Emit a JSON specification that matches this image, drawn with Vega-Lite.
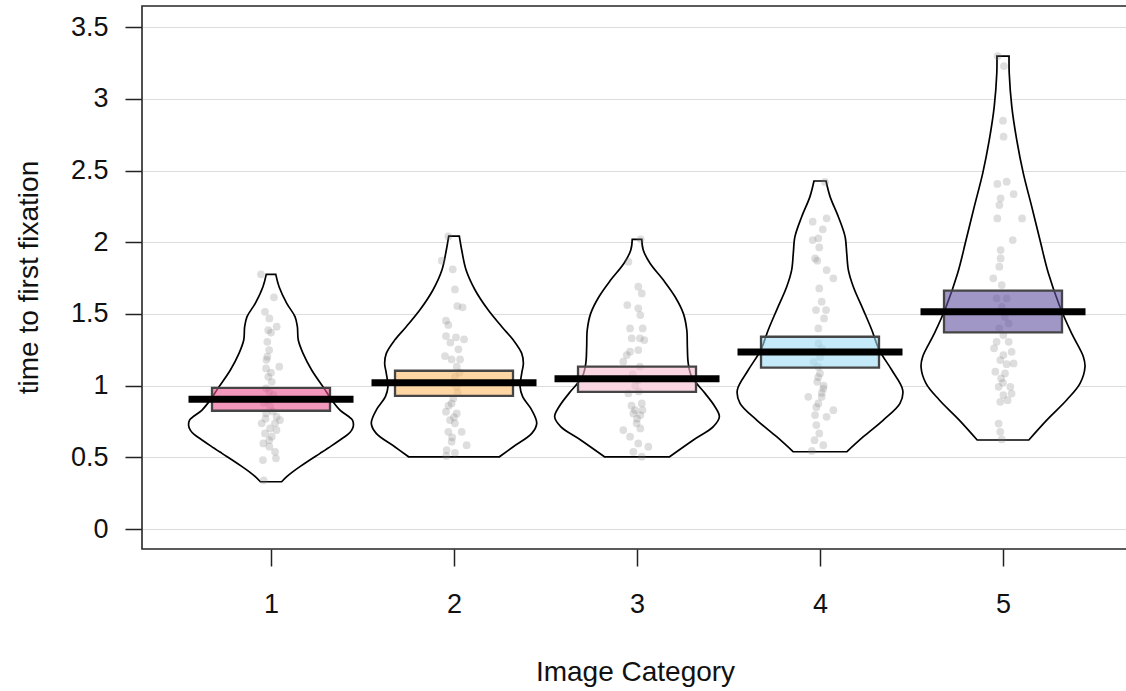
{
"$schema": "https://vega.github.io/schema/vega-lite/v6.json",
"autosize": {"type": "none"},
"padding": {"left": 142, "top": 6, "right": 0, "bottom": 142},
"width": 986,
"height": 543,
"background": "white",
"config": {
  "view": {"stroke": "#262626", "strokeWidth": 1.6},
  "font": "Liberation Sans",
  "axis": {"labelFont": "Liberation Sans", "titleFont": "Liberation Sans"}
},
"datasets": {
"violin": [
{"g":1,"t":1.776,"left":0.974,"right":1.026},{"g":1,"t":1.690,"left":0.956,"right":1.044},{"g":1,"t":1.574,"left":0.914,"right":1.086},{"g":1,"t":1.481,"left":0.869,"right":1.131},{"g":1,"t":1.411,"left":0.856,"right":1.144},{"g":1,"t":1.318,"left":0.851,"right":1.149},{"g":1,"t":1.225,"left":0.825,"right":1.175},{"g":1,"t":1.109,"left":0.778,"right":1.222},{"g":1,"t":0.981,"left":0.710,"right":1.290},{"g":1,"t":0.900,"left":0.668,"right":1.332},{"g":1,"t":0.830,"left":0.623,"right":1.377},{"g":1,"t":0.760,"left":0.555,"right":1.445},{"g":1,"t":0.720,"left":0.550,"right":1.450},{"g":1,"t":0.690,"left":0.559,"right":1.441},{"g":1,"t":0.660,"left":0.580,"right":1.420},{"g":1,"t":0.621,"left":0.623,"right":1.377},{"g":1,"t":0.580,"left":0.670,"right":1.330},{"g":1,"t":0.528,"left":0.732,"right":1.268},{"g":1,"t":0.480,"left":0.790,"right":1.210},{"g":1,"t":0.435,"left":0.842,"right":1.158},{"g":1,"t":0.400,"left":0.880,"right":1.120},{"g":1,"t":0.365,"left":0.914,"right":1.086},{"g":1,"t":0.330,"left":0.942,"right":1.058},
{"g":2,"t":2.043,"left":1.971,"right":2.029},{"g":2,"t":1.946,"left":1.958,"right":2.042},{"g":2,"t":1.806,"left":1.934,"right":2.066},{"g":2,"t":1.667,"left":1.885,"right":2.115},{"g":2,"t":1.527,"left":1.813,"right":2.187},{"g":2,"t":1.411,"left":1.739,"right":2.261},{"g":2,"t":1.318,"left":1.676,"right":2.324},{"g":2,"t":1.225,"left":1.630,"right":2.370},{"g":2,"t":1.155,"left":1.621,"right":2.379},{"g":2,"t":1.086,"left":1.630,"right":2.370},{"g":2,"t":0.993,"left":1.639,"right":2.361},{"g":2,"t":0.923,"left":1.625,"right":2.375},{"g":2,"t":0.830,"left":1.575,"right":2.425},{"g":2,"t":0.737,"left":1.548,"right":2.452},{"g":2,"t":0.667,"left":1.575,"right":2.425},{"g":2,"t":0.574,"left":1.676,"right":2.324},{"g":2,"t":0.504,"left":1.752,"right":2.248},
{"g":3,"t":2.020,"left":2.974,"right":3.026},{"g":3,"t":1.946,"left":2.966,"right":3.034},{"g":3,"t":1.853,"left":2.929,"right":3.071},{"g":3,"t":1.736,"left":2.856,"right":3.144},{"g":3,"t":1.620,"left":2.792,"right":3.208},{"g":3,"t":1.504,"left":2.747,"right":3.253},{"g":3,"t":1.388,"left":2.728,"right":3.272},{"g":3,"t":1.271,"left":2.725,"right":3.275},{"g":3,"t":1.155,"left":2.720,"right":3.280},{"g":3,"t":1.062,"left":2.701,"right":3.299},{"g":3,"t":0.946,"left":2.628,"right":3.372},{"g":3,"t":0.853,"left":2.574,"right":3.426},{"g":3,"t":0.783,"left":2.550,"right":3.450},{"g":3,"t":0.714,"left":2.583,"right":3.417},{"g":3,"t":0.621,"left":2.692,"right":3.308},{"g":3,"t":0.504,"left":2.822,"right":3.178},
{"g":4,"t":2.427,"left":3.967,"right":4.033},{"g":4,"t":2.318,"left":3.945,"right":4.055},{"g":4,"t":2.178,"left":3.900,"right":4.100},{"g":4,"t":2.039,"left":3.863,"right":4.137},{"g":4,"t":1.922,"left":3.854,"right":4.146},{"g":4,"t":1.806,"left":3.845,"right":4.155},{"g":4,"t":1.690,"left":3.818,"right":4.182},{"g":4,"t":1.527,"left":3.763,"right":4.237},{"g":4,"t":1.388,"left":3.717,"right":4.283},{"g":4,"t":1.248,"left":3.676,"right":4.324},{"g":4,"t":1.109,"left":3.608,"right":4.392},{"g":4,"t":0.969,"left":3.548,"right":4.452},{"g":4,"t":0.876,"left":3.563,"right":4.437},{"g":4,"t":0.760,"left":3.654,"right":4.346},{"g":4,"t":0.644,"left":3.763,"right":4.237},{"g":4,"t":0.539,"left":3.854,"right":4.146},
{"g":5,"t":3.298,"left":4.967,"right":5.033},{"g":5,"t":3.178,"left":4.966,"right":5.034},{"g":5,"t":2.945,"left":4.952,"right":5.048},{"g":5,"t":2.713,"left":4.925,"right":5.075},{"g":5,"t":2.480,"left":4.889,"right":5.111},{"g":5,"t":2.248,"left":4.843,"right":5.157},{"g":5,"t":2.015,"left":4.798,"right":5.202},{"g":5,"t":1.783,"left":4.752,"right":5.248},{"g":5,"t":1.550,"left":4.689,"right":5.311},{"g":5,"t":1.364,"left":4.625,"right":5.375},{"g":5,"t":1.202,"left":4.561,"right":5.439},{"g":5,"t":1.132,"left":4.552,"right":5.448},{"g":5,"t":1.016,"left":4.579,"right":5.421},{"g":5,"t":0.900,"left":4.652,"right":5.348},{"g":5,"t":0.760,"left":4.761,"right":5.239},{"g":5,"t":0.621,"left":4.859,"right":5.141}
],
"points": [
{"g":1,"x":0.945,"t":1.776},{"g":1,"x":1.016,"t":1.616},{"g":1,"x":0.967,"t":1.515},{"g":1,"x":0.991,"t":1.469},{"g":1,"x":1.031,"t":1.411},{"g":1,"x":0.985,"t":1.387},{"g":1,"x":0.98,"t":1.306},{"g":1,"x":0.99,"t":1.248},{"g":1,"x":0.98,"t":1.202},{"g":1,"x":1.045,"t":1.132},{"g":1,"x":0.973,"t":1.12},{"g":1,"x":0.985,"t":1.062},{"g":1,"x":1.004,"t":1.027},{"g":1,"x":0.973,"t":0.981},{"g":1,"x":0.99,"t":0.958},{"g":1,"x":1.013,"t":0.935},{"g":1,"x":0.98,"t":0.9},{"g":1,"x":0.995,"t":0.853},{"g":1,"x":0.973,"t":0.807},{"g":1,"x":1.031,"t":0.783},{"g":1,"x":0.949,"t":0.737},{"g":1,"x":1.022,"t":0.737},{"g":1,"x":1.049,"t":0.76},{"g":1,"x":0.995,"t":0.702},{"g":1,"x":0.967,"t":0.667},{"g":1,"x":1.004,"t":0.644},{"g":1,"x":0.958,"t":0.597},{"g":1,"x":0.991,"t":0.574},{"g":1,"x":1.022,"t":0.539},{"g":1,"x":0.956,"t":0.481},{"g":1,"x":1.027,"t":0.493},{"g":1,"x":0.96,"t":0.34},{"g":1,"x":1.0,"t":1.09},{"g":1,"x":0.96,"t":0.88},{"g":1,"x":1.01,"t":0.82},{"g":1,"x":0.99,"t":0.62},{"g":1,"x":1.03,"t":0.69},{"g":1,"x":0.975,"t":1.18},{"g":1,"x":1.0,"t":1.37},{"g":1,"x":0.97,"t":0.77},
{"g":2,"x":1.969,"t":2.04},{"g":2,"x":1.933,"t":1.871},{"g":2,"x":1.993,"t":1.811},{"g":2,"x":2.005,"t":1.671},{"g":2,"x":2.018,"t":1.555},{"g":2,"x":2.047,"t":1.546},{"g":2,"x":1.956,"t":1.453},{"g":2,"x":1.969,"t":1.423},{"g":2,"x":2.011,"t":1.337},{"g":2,"x":2.055,"t":1.323},{"g":2,"x":1.956,"t":1.346},{"g":2,"x":2.024,"t":1.253},{"g":2,"x":1.951,"t":1.206},{"g":2,"x":1.987,"t":1.183},{"g":2,"x":2.033,"t":1.183},{"g":2,"x":2.015,"t":1.132},{"g":2,"x":2.005,"t":1.062},{"g":2,"x":2.015,"t":0.993},{"g":2,"x":1.996,"t":0.911},{"g":2,"x":1.987,"t":0.876},{"g":2,"x":1.956,"t":0.818},{"g":2,"x":2.015,"t":0.806},{"g":2,"x":1.978,"t":0.76},{"g":2,"x":2.005,"t":0.737},{"g":2,"x":2.042,"t":0.678},{"g":2,"x":1.969,"t":0.678},{"g":2,"x":1.987,"t":0.609},{"g":2,"x":2.069,"t":0.585},{"g":2,"x":1.96,"t":0.551},{"g":2,"x":2.005,"t":0.532},{"g":2,"x":1.958,"t":0.51},{"g":2,"x":1.99,"t":1.02},{"g":2,"x":2.02,"t":0.95},{"g":2,"x":1.97,"t":0.86},{"g":2,"x":2.0,"t":0.78},{"g":2,"x":2.03,"t":1.09},{"g":2,"x":1.98,"t":1.3},{"g":2,"x":1.99,"t":0.64},
{"g":3,"x":3.02,"t":2.02},{"g":3,"x":2.953,"t":1.864},{"g":3,"x":3.007,"t":1.69},{"g":3,"x":3.026,"t":1.643},{"g":3,"x":2.947,"t":1.562},{"g":3,"x":3.007,"t":1.539},{"g":3,"x":3.018,"t":1.492},{"g":3,"x":2.962,"t":1.399},{"g":3,"x":3.031,"t":1.399},{"g":3,"x":2.971,"t":1.33},{"g":3,"x":3.04,"t":1.318},{"g":3,"x":3.016,"t":1.33},{"g":3,"x":2.962,"t":1.237},{"g":3,"x":2.944,"t":1.213},{"g":3,"x":3.007,"t":1.248},{"g":3,"x":2.925,"t":1.167},{"g":3,"x":3.016,"t":1.132},{"g":3,"x":2.976,"t":1.081},{"g":3,"x":3.007,"t":1.039},{"g":3,"x":2.953,"t":0.946},{"g":3,"x":3.026,"t":0.876},{"g":3,"x":2.989,"t":0.83},{"g":3,"x":2.98,"t":0.806},{"g":3,"x":3.018,"t":0.795},{"g":3,"x":2.998,"t":0.737},{"g":3,"x":2.925,"t":0.69},{"g":3,"x":3.018,"t":0.702},{"g":3,"x":2.962,"t":0.644},{"g":3,"x":3.007,"t":0.597},{"g":3,"x":3.062,"t":0.574},{"g":3,"x":2.98,"t":0.539},{"g":3,"x":3.026,"t":0.505},{"g":3,"x":2.99,"t":1.0},{"g":3,"x":3.01,"t":0.96},{"g":3,"x":2.97,"t":0.86},{"g":3,"x":3.0,"t":0.77},{"g":3,"x":3.03,"t":0.83},
{"g":4,"x":4.027,"t":2.42},{"g":4,"x":3.96,"t":2.143},{"g":4,"x":4.036,"t":2.167},{"g":4,"x":4.015,"t":2.09},{"g":4,"x":3.96,"t":2.015},{"g":4,"x":3.991,"t":2.027},{"g":4,"x":3.996,"t":1.964},{"g":4,"x":3.973,"t":1.887},{"g":4,"x":3.985,"t":1.871},{"g":4,"x":4.036,"t":1.806},{"g":4,"x":4.073,"t":1.748},{"g":4,"x":3.996,"t":1.678},{"g":4,"x":4.009,"t":1.585},{"g":4,"x":3.978,"t":1.527},{"g":4,"x":4.033,"t":1.527},{"g":4,"x":4.022,"t":1.469},{"g":4,"x":3.991,"t":1.399},{"g":4,"x":3.991,"t":1.294},{"g":4,"x":4.018,"t":1.236},{"g":4,"x":3.965,"t":1.166},{"g":4,"x":3.991,"t":1.132},{"g":4,"x":4.0,"t":1.085},{"g":4,"x":3.985,"t":1.027},{"g":4,"x":4.018,"t":0.98},{"g":4,"x":4.009,"t":0.922},{"g":4,"x":3.936,"t":0.922},{"g":4,"x":3.991,"t":0.876},{"g":4,"x":4.073,"t":0.829},{"g":4,"x":3.973,"t":0.795},{"g":4,"x":4.036,"t":0.783},{"g":4,"x":3.98,"t":0.725},{"g":4,"x":3.996,"t":0.667},{"g":4,"x":3.97,"t":0.62},{"g":4,"x":4.018,"t":0.585},{"g":4,"x":3.955,"t":0.545},{"g":4,"x":4.0,"t":1.2},{"g":4,"x":3.99,"t":1.06},{"g":4,"x":4.01,"t":0.95},{"g":4,"x":3.98,"t":0.85},{"g":4,"x":4.02,"t":1.0},{"g":4,"x":4.01,"t":1.26},
{"g":5,"x":4.971,"t":3.298},{"g":5,"x":5.005,"t":3.228},{"g":5,"x":5.0,"t":2.847},{"g":5,"x":5.003,"t":2.736},{"g":5,"x":4.969,"t":2.406},{"g":5,"x":5.02,"t":2.422},{"g":5,"x":5.058,"t":2.336},{"g":5,"x":4.987,"t":2.306},{"g":5,"x":4.98,"t":2.259},{"g":5,"x":4.969,"t":2.166},{"g":5,"x":5.104,"t":2.166},{"g":5,"x":5.053,"t":2.015},{"g":5,"x":4.987,"t":1.945},{"g":5,"x":4.987,"t":1.887},{"g":5,"x":4.98,"t":1.829},{"g":5,"x":4.947,"t":1.748},{"g":5,"x":4.993,"t":1.701},{"g":5,"x":4.965,"t":1.608},{"g":5,"x":5.02,"t":1.608},{"g":5,"x":4.993,"t":1.55},{"g":5,"x":5.031,"t":1.434},{"g":5,"x":5.002,"t":1.353},{"g":5,"x":4.965,"t":1.306},{"g":5,"x":5.031,"t":1.306},{"g":5,"x":4.951,"t":1.26},{"g":5,"x":5.002,"t":1.213},{"g":5,"x":5.047,"t":1.236},{"g":5,"x":5.058,"t":1.155},{"g":5,"x":4.985,"t":1.178},{"g":5,"x":4.958,"t":1.097},{"g":5,"x":5.011,"t":1.085},{"g":5,"x":4.976,"t":0.992},{"g":5,"x":5.04,"t":0.992},{"g":5,"x":5.047,"t":0.945},{"g":5,"x":5.002,"t":0.934},{"g":5,"x":4.985,"t":0.887},{"g":5,"x":5.025,"t":0.899},{"g":5,"x":4.976,"t":0.736},{"g":5,"x":4.985,"t":0.678},{"g":5,"x":4.993,"t":0.625},{"g":5,"x":5.0,"t":1.02},{"g":5,"x":4.99,"t":1.05},{"g":5,"x":5.02,"t":1.15},{"g":5,"x":4.98,"t":1.4},{"g":5,"x":5.01,"t":1.48}
],
"summary": [
{"g":1,"mean":0.905,"lo":0.825,"hi":0.985},
{"g":2,"mean":1.020,"lo":0.929,"hi":1.104},
{"g":3,"mean":1.048,"lo":0.957,"hi":1.132},
{"g":4,"mean":1.234,"lo":1.125,"hi":1.341},
{"g":5,"mean":1.515,"lo":1.371,"hi":1.662}
]
},
"layer": [
{
  "data": {"name": "violin"},
  "mark": {"type": "area", "orient": "horizontal", "interpolate": "catmull-rom", "fill": "white", "opacity": 1, "fillOpacity": 1, "stroke": "black", "strokeWidth": 1.7},
  "encoding": {
    "y": {"field": "t", "type": "quantitative",
      "scale": {"domain": [-0.139, 3.647], "nice": false, "zero": false, "padding": 0},
      "axis": {"title": "time to first fixation", "values": [0,0.5,1,1.5,2,2.5,3,3.5], "format": "~g",
        "grid": true, "gridColor": "#dcdcdc", "gridWidth": 1, "domain": false,
        "tickSize": 17, "tickColor": "#222222", "tickWidth": 1.5,
        "labelPadding": 17, "labelFontSize": 27, "labelColor": "#111111",
        "titleFontSize": 28, "titleFontWeight": "normal", "titleColor": "#111111",
        "titleAngle": -90, "titleX": -105, "titleY": 271, "titleBaseline": "alphabetic", "titleAlign": "center"}},
    "x": {"field": "left", "type": "quantitative",
      "scale": {"domain": [0.295, 5.683], "nice": false, "zero": false, "padding": 0},
      "axis": {"title": "Image Category", "values": [1,2,3,4,5], "format": "d",
        "grid": false, "domain": false,
        "tickSize": 17, "tickColor": "#222222", "tickWidth": 1.5,
        "labelPadding": 25, "labelFontSize": 27, "labelColor": "#111111", "labelBaseline": "top",
        "titleFontSize": 28, "titleFontWeight": "normal", "titleColor": "#111111",
        "titleY": 131, "titleBaseline": "alphabetic"}},
    "x2": {"field": "right"},
    "detail": {"field": "g", "type": "nominal"}
  }
},
{
  "data": {"name": "points"},
  "mark": {"type": "circle", "size": 60, "fill": "#808080", "opacity": 0.26, "strokeWidth": 0},
  "encoding": {
    "x": {"field": "x", "type": "quantitative", "title": "Image Category"},
    "y": {"field": "t", "type": "quantitative", "title": "time to first fixation"}
  }
},
{
  "data": {"name": "summary"},
  "mark": {"type": "bar", "width": 118, "fillOpacity": 0.6, "stroke": "#454545", "strokeOpacity": 1, "strokeWidth": 2.3},
  "encoding": {
    "x": {"field": "g", "type": "quantitative", "title": "Image Category"},
    "y": {"field": "lo", "type": "quantitative", "title": "time to first fixation"},
    "y2": {"field": "hi"},
    "fill": {"field": "g", "type": "nominal", "legend": null,
      "scale": {"domain": [1,2,3,4,5], "range": ["#EB5291", "#FBBB68", "#F5BACF", "#9DDAF5", "#6351A0"]}}
  }
},
{
  "data": {"name": "summary"},
  "mark": {"type": "tick", "orient": "horizontal", "size": 165, "thickness": 7, "color": "black", "opacity": 1},
  "encoding": {
    "x": {"field": "g", "type": "quantitative", "title": "Image Category"},
    "y": {"field": "mean", "type": "quantitative", "title": "time to first fixation"}
  }
}
]
}
